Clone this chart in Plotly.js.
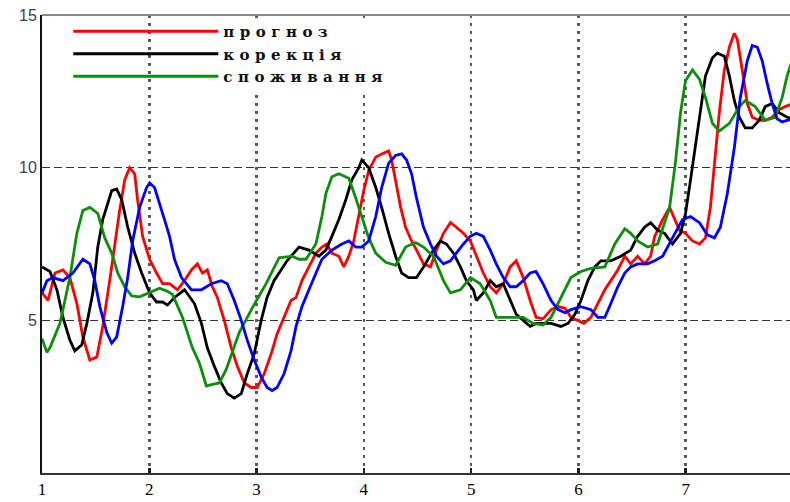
<!DOCTYPE html>
<html>
<head>
<meta charset="utf-8">
<script src="https://cdn.plot.ly/plotly-3.0.1.min.js"></script>
<style>
html, body { margin: 0; padding: 0; overflow: hidden; background: #fff; }
#chart { width: 797px; height: 502px; }
.legendtext { letter-spacing: 5.5px; }
</style>
</head>
<body>
<div id="chart"></div>
<script>
// ---- data ----
var seriesNames = ["прогноз", "корекція", "споживання", ""];

var redX = [1.000,1.056,1.121,1.195,1.260,1.325,1.381,1.446,1.511,1.566,1.631,1.678,1.724,1.771,1.817,1.864,1.891,1.938,2.003,2.068,2.124,2.189,2.263,2.328,2.393,2.448,2.495,2.541,2.588,2.634,2.699,2.764,2.820,2.885,2.950,3.006,3.071,3.136,3.191,3.256,3.321,3.368,3.423,3.488,3.553,3.609,3.655,3.702,3.767,3.813,3.860,3.906,3.953,3.999,4.045,4.111,4.166,4.231,4.259,4.296,4.343,4.389,4.445,4.491,4.556,4.621,4.677,4.742,4.807,4.863,4.928,4.993,5.048,5.113,5.178,5.234,5.299,5.364,5.420,5.485,5.550,5.605,5.670,5.745,5.810,5.875,5.930,5.995,6.051,6.116,6.181,6.246,6.302,6.367,6.432,6.487,6.552,6.617,6.673,6.710,6.738,6.785,6.850,6.896,6.942,6.998,7.063,7.128,7.184,7.230,7.267,7.313,7.360,7.407,7.453,7.481,7.527,7.574,7.620,7.685,7.741,7.806,7.871,7.927,8.000];
var redY = [5.9,5.65,6.55,6.65,6.4,5.55,4.45,3.7,3.8,4.8,6.3,7.5,8.6,9.6,10.0,9.8,8.95,7.75,7.0,6.55,6.2,6.2,6.0,6.3,6.65,6.85,6.55,6.65,6.1,5.75,5.0,4.1,3.5,2.95,2.8,2.8,3.25,3.9,4.55,5.1,5.65,5.75,6.3,6.75,7.2,7.4,7.5,7.2,7.1,6.75,7.1,7.6,8.4,9.25,9.9,10.35,10.45,10.55,10.25,9.6,8.7,8.05,7.6,7.3,6.85,6.75,7.3,7.85,8.2,8.05,7.85,7.6,7.1,6.55,6.1,5.9,6.2,6.75,6.95,6.4,5.65,5.1,5.05,5.35,5.45,5.4,5.1,5.0,4.9,5.1,5.55,6.0,6.3,6.65,7.1,6.85,7.1,6.85,7.1,7.75,7.95,8.3,8.7,8.3,7.95,7.85,7.6,7.5,7.7,8.7,10.0,11.8,13.2,13.95,14.4,14.2,13.2,12.1,11.65,11.55,11.55,11.65,11.9,12.0,12.1];

var blackX = [1.000,1.074,1.139,1.195,1.260,1.306,1.371,1.418,1.474,1.520,1.566,1.613,1.650,1.696,1.743,1.799,1.864,1.929,2.003,2.068,2.124,2.170,2.235,2.328,2.421,2.486,2.541,2.606,2.671,2.727,2.792,2.857,2.913,2.978,3.043,3.098,3.163,3.228,3.284,3.396,3.488,3.581,3.646,3.702,3.767,3.832,3.888,3.953,3.981,4.045,4.111,4.166,4.231,4.296,4.352,4.417,4.491,4.556,4.649,4.714,4.770,4.835,4.900,4.955,5.021,5.048,5.113,5.178,5.234,5.299,5.364,5.420,5.485,5.550,5.605,5.745,5.837,5.903,5.967,6.023,6.088,6.153,6.209,6.302,6.395,6.487,6.552,6.617,6.673,6.738,6.803,6.877,6.952,6.998,7.045,7.091,7.137,7.184,7.249,7.295,7.360,7.407,7.453,7.500,7.555,7.620,7.685,7.741,7.806,7.871,7.945,8.000];
var blackY = [6.75,6.6,6.0,5.1,4.35,4.0,4.2,4.9,5.9,7.4,8.3,8.8,9.25,9.3,8.95,8.05,7.2,6.55,5.9,5.6,5.6,5.5,5.75,6.0,5.55,4.9,4.1,3.5,2.95,2.6,2.45,2.6,3.25,3.9,5.0,5.75,6.3,6.65,6.95,7.4,7.3,7.1,7.3,7.75,8.3,8.95,9.6,10.0,10.25,10.0,9.35,8.7,7.85,7.1,6.55,6.4,6.4,6.75,7.3,7.6,7.5,7.2,6.75,6.3,6.0,5.65,5.9,6.3,6.1,6.2,5.65,5.2,5.0,4.8,4.9,4.9,4.8,4.9,5.2,5.65,6.3,6.75,6.95,6.95,7.1,7.3,7.75,8.05,8.2,7.95,7.85,7.5,7.85,8.5,9.6,10.7,11.9,13.0,13.6,13.75,13.65,13.0,12.2,11.65,11.3,11.3,11.55,12.0,12.1,11.8,11.65,11.6];

var greenX = [1.000,1.046,1.074,1.167,1.260,1.325,1.381,1.446,1.520,1.585,1.650,1.706,1.771,1.836,1.910,2.003,2.096,2.170,2.216,2.309,2.402,2.467,2.532,2.588,2.653,2.718,2.838,2.959,3.089,3.210,3.331,3.396,3.461,3.553,3.609,3.646,3.702,3.767,3.860,3.925,3.981,4.045,4.111,4.203,4.296,4.389,4.482,4.556,4.649,4.742,4.807,4.900,4.993,5.085,5.178,5.234,5.364,5.485,5.577,5.670,5.745,5.837,5.930,6.023,6.116,6.246,6.339,6.432,6.487,6.552,6.645,6.738,6.803,6.850,6.905,6.952,6.998,7.063,7.128,7.184,7.249,7.313,7.407,7.500,7.555,7.648,7.741,7.834,7.899,7.945,8.000];
var greenY = [4.4,3.95,4.1,4.9,6.4,7.85,8.6,8.7,8.5,7.7,7.2,6.55,6.1,5.8,5.77,5.9,6.05,5.95,5.85,5.1,4.1,3.6,2.85,2.9,2.95,3.4,4.6,5.4,6.2,7.05,7.1,7.0,7.0,7.5,8.4,9.15,9.7,9.8,9.65,9.0,8.4,7.7,7.2,6.9,6.8,7.4,7.55,7.4,7.1,6.3,5.9,6.0,6.4,6.2,5.65,5.1,5.1,5.1,4.9,4.85,5.1,5.75,6.4,6.6,6.7,6.75,7.5,8.0,7.85,7.6,7.4,7.5,8.2,8.7,10.2,11.8,12.85,13.2,12.9,12.3,11.45,11.2,11.45,12.0,12.2,12.0,11.55,11.65,12.3,13.0,13.6];

var blueX = [1.000,1.046,1.102,1.195,1.288,1.381,1.446,1.492,1.539,1.604,1.650,1.696,1.752,1.799,1.845,1.910,1.975,2.003,2.049,2.096,2.142,2.189,2.235,2.300,2.393,2.486,2.578,2.671,2.727,2.792,2.857,2.913,2.978,3.043,3.098,3.145,3.191,3.256,3.321,3.368,3.423,3.488,3.553,3.609,3.702,3.795,3.860,3.925,3.981,4.045,4.111,4.166,4.231,4.296,4.352,4.398,4.445,4.491,4.556,4.621,4.677,4.742,4.807,4.863,4.928,4.993,5.048,5.113,5.178,5.234,5.299,5.364,5.420,5.485,5.550,5.605,5.670,5.745,5.810,5.875,5.930,6.023,6.116,6.181,6.246,6.302,6.367,6.432,6.487,6.552,6.645,6.710,6.785,6.877,6.970,7.045,7.128,7.202,7.267,7.323,7.388,7.453,7.509,7.574,7.620,7.667,7.713,7.760,7.806,7.852,7.899,7.945,8.000];
var blueY = [5.9,6.3,6.4,6.3,6.55,7.0,6.85,6.3,5.45,4.6,4.25,4.45,5.45,6.4,7.6,8.7,9.35,9.5,9.35,8.85,8.3,7.75,7.0,6.4,6.0,6.0,6.2,6.3,6.2,5.65,5.0,4.35,3.7,3.15,2.8,2.7,2.8,3.25,4.0,4.8,5.45,6.0,6.55,7.0,7.3,7.5,7.6,7.4,7.4,7.6,8.4,9.35,10.15,10.4,10.45,10.25,9.8,9.0,8.05,7.5,7.1,6.85,6.95,7.2,7.5,7.75,7.85,7.75,7.3,6.85,6.4,6.1,6.1,6.3,6.55,6.6,6.2,5.65,5.35,5.25,5.35,5.45,5.35,5.1,5.1,5.55,6.1,6.55,6.75,6.85,6.85,6.95,7.1,7.7,8.3,8.4,8.2,7.8,7.7,8.05,9.15,10.65,12.3,13.5,14.0,13.95,13.5,12.75,12.1,11.6,11.5,11.55,11.6];

var xTickVals = [1,2,3,4,5,6,7,8];
var yTickVals = [5,10,15];

var colors = ["#ff0000", "#000000", "#0b8f0b", "#0000ff"];

function trace(x, y, i, legend) {
  return {
    type: "scatter", mode: "lines", x: x, y: y,
    name: seriesNames[i] || " ",
    showlegend: legend,
    line: { color: colors[i], width: 2.8 },
    hoverinfo: "skip"
  };
}

var data = [
  trace(redX, redY, 0, true),
  trace(blackX, blackY, 1, true),
  trace(greenX, greenY, 2, true),
  trace(blueX, blueY, 3, false)
];

var layout = {
  width: 797, height: 502,
  margin: { l: 42, r: 4, t: 15, b: 29, pad: 0 },
  paper_bgcolor: "#ffffff", plot_bgcolor: "#ffffff",
  showlegend: true,
  legend: {
    x: 0.035, y: 1.0, xanchor: "left", yanchor: "top",
    bgcolor: "rgba(0,0,0,0)", borderwidth: 0,
    itemwidth: 145,
    font: { family: "DejaVu Serif", size: 15, color: "#111", weight: "bold" },
    tracegroupgap: 0
  },
  xaxis: {
    range: [1, 8], tickvals: xTickVals, ticktext: xTickVals.map(String),
    showgrid: true, gridcolor: "#5a5a5a", gridwidth: 2.5, griddash: "3px,5px",
    showline: true, linecolor: "#333", linewidth: 2,
    ticks: "inside", ticklen: 5, tickcolor: "#222", tickwidth: 2.5,
    zeroline: false,
    tickfont: { family: "Liberation Serif", size: 17, color: "#000" }
  },
  yaxis: {
    range: [0, 15], tickvals: yTickVals, ticktext: yTickVals.map(String),
    showgrid: true, gridcolor: "#333", gridwidth: 1.6, griddash: "8px,4px",
    showline: true, linecolor: "#111", linewidth: 2,
    ticks: "", zeroline: false,
    tickfont: { family: "Liberation Sans", size: 16, color: "#3a4050" }
  },
  shapes: [
    { type: "rect", xref: "x", yref: "y", x0: 2.75, x1: 4.3, y0: 12.4, y1: 14.9,
      fillcolor: "#ffffff", line: { width: 0 }, layer: "between" },
    { type: "line", xref: "paper", yref: "paper", x0: 0, x1: 1, y0: 1, y1: 1,
      line: { color: "#8a8a8a", width: 2 }, layer: "above" }
  ]
};

Plotly.newPlot("chart", data, layout, { staticPlot: true, displayModeBar: false });
</script>
</body>
</html>
